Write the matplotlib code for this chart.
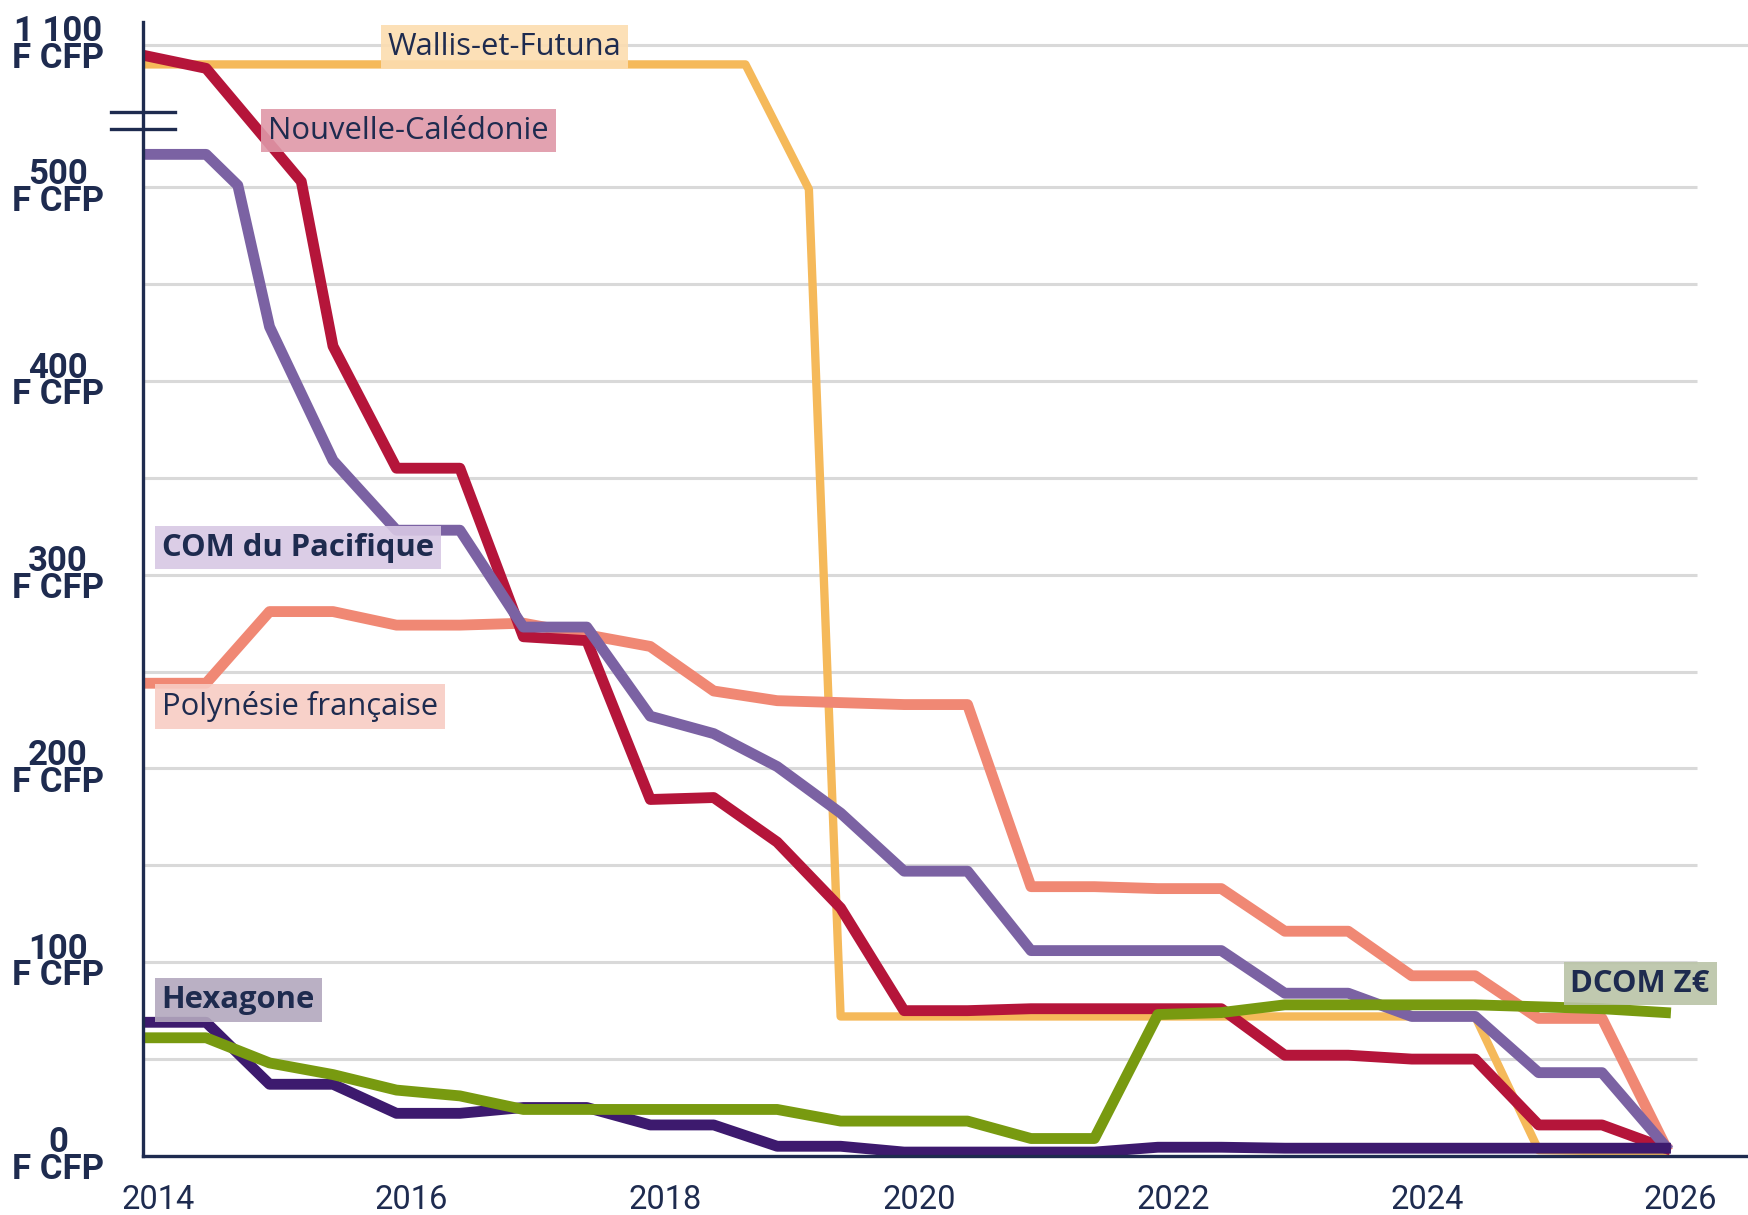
import matplotlib.pyplot as plt
import matplotlib.transforms as mtransforms
import numpy as np

# prix en F CFP, semestres de 2014 a 2026
half_years = [2014 + 0.5 * i for i in range(25)]

wallis_x = [2014, 2018.75, 2019.25, 2019.5, 2024.5, 2025, 2026]
wallis_y = [990, 990, 499, 72, 72, 3, 2]

nc_x = [2014, 2014.5, 2015.25, 2015.5, 2016, 2016.5, 2017, 2017.5, 2018, 2018.5,
        2019, 2019.5, 2020, 2020.5, 2021, 2021.5, 2022, 2022.5, 2023, 2023.5,
        2024, 2024.5, 2025, 2025.5, 2026]
nc_y = [1042, 968, 503, 418, 355, 355, 268, 266, 184, 185,
        162, 128, 75, 75, 76, 76, 76, 76, 52, 52,
        50, 50, 16, 16, 4]

com_x = [2014, 2014.5, 2014.75, 2015, 2015.5, 2016, 2016.5, 2017, 2017.5, 2018,
         2018.5, 2019, 2019.5, 2020, 2020.5, 2021, 2021.5, 2022, 2022.5, 2023,
         2023.5, 2024, 2024.5, 2025, 2025.5, 2026]
com_y = [517, 517, 501, 428, 359, 323, 323, 273, 273, 227,
         218, 201, 177, 147, 147, 106, 106, 106, 106, 84,
         84, 72, 72, 43, 43, 5]

pf_y = [244, 244, 281, 281, 274, 274, 275, 269, 263, 240,
        235, 234, 233, 233, 139, 139, 138, 138, 116, 116,
        93, 93, 71, 71, 5]

hex_y = [69, 69, 37, 37, 22, 22, 25, 25, 16, 16,
         5, 5, 2, 2, 2, 2, 4.5, 4.5, 4, 4,
         4, 4, 4, 4, 4]

dcom_y = [61, 61, 48, 42, 34, 31, 24, 24, 24, 24,
          24, 18, 18, 18, 9, 9, 73, 74, 78, 78,
          78, 78, 77, 76, 74]

ytick_vals = [0, 100, 200, 300, 400, 500, 1100]
ytick_labels = ['0\nF CFP', '100\nF CFP', '200\nF CFP', '300\nF CFP',
                '400\nF CFP', '500\nF CFP', '1 100\nF CFP']
grid_vals = [50, 100, 150, 200, 250, 300, 350, 400, 450, 500]
year_ticks = [2014, 2016, 2018, 2020, 2022, 2024, 2026]

NAVY = '#1E2B4F'

# axe casse : au-dessus de 520 l'echelle est tassee
BREAK = 520
SQUEEZE = 0.0924


def squash(v):
    v = np.asarray(v, dtype=float)
    return np.where(v <= BREAK, v, BREAK + (v - BREAK) * SQUEEZE)


def unsquash(p):
    p = np.asarray(p, dtype=float)
    return np.where(p <= BREAK, p, BREAK + (p - BREAK) / SQUEEZE)


fig = plt.figure(figsize=(17.48, 12.15), dpi=100)
ax = fig.add_axes([0.0816, 0.0486, 0.9184, 0.933])
ax.set_yscale('function', functions=(squash, unsquash))
ax.set_xlim(2014, 2026.65)
ax.set_ylim(0, 1225)

# grille
ax.hlines(grid_vals, 2014, 2026.25, color='#D9D9D9', linewidth=2.2, zorder=1)
ax.axhline(1100, color='#D9D9D9', linewidth=2.2, zorder=1)

lw = 7.8
ax.plot(wallis_x, wallis_y, color='#F5B95A', linewidth=6, zorder=3)
ax.plot(half_years, pf_y, color='#F08874', linewidth=lw, zorder=4)
ax.plot(nc_x, nc_y, color='#B5153A', linewidth=lw, zorder=5)
ax.plot(com_x, com_y, color='#7B62A3', linewidth=lw, zorder=6)
ax.plot(half_years, hex_y, color='#3D1A6E', linewidth=lw, zorder=7)
ax.plot(half_years, dcom_y, color='#789A10', linewidth=lw, zorder=8)

# etiquettes des series
labels = [
    ('Wallis-et-Futuna', 2015.93, 1088, '#FCDDB0', 'normal'),
    ('Nouvelle-Calédonie', 2014.99, 620, '#DF98A8', 'normal'),
    ('COM du Pacifique', 2014.15, 314, '#D8C8E4', 'bold'),
    ('Polynésie française', 2014.15, 232, '#F8CCC4', 'normal'),
    ('Hexagone', 2014.15, 80.5, '#B3A8BE', 'bold'),
    ('DCOM Z€', 2025.25, 89, '#B9C3A6', 'bold'),
]
for txt, x, y, bg, weight in labels:
    ax.text(x, y, txt, fontsize=22.3, fontweight=weight, family=['Open Sans', 'DejaVu Sans'],
            color=NAVY, ha='left', va='center', zorder=10,
            bbox=dict(boxstyle='square,pad=0.22', facecolor=bg, edgecolor='none', alpha=0.9))

# axes
for side in ['top', 'right']:
    ax.spines[side].set_visible(False)
for side in ['left', 'bottom']:
    ax.spines[side].set_color(NAVY)
    ax.spines[side].set_linewidth(2.4)
    ax.spines[side].set_zorder(9)

ax.set_yticks(ytick_vals, ytick_labels)
ax.tick_params(axis='y', length=0, pad=61, labelsize=25, labelcolor=NAVY)
for lab in ax.get_yticklabels():
    lab.set_ha('center')
    lab.set_linespacing(0.76)
    lab.set_fontweight('bold')
    lab.set_family(['Roboto', 'DejaVu Sans'])

ax.set_xticks(year_ticks, [str(y) for y in year_ticks])
ax.tick_params(axis='x', length=0, pad=20, labelsize=23.5, labelcolor=NAVY)
shift = mtransforms.ScaledTranslation(0.15, 0, fig.dpi_scale_trans)
for lab in ax.get_xticklabels():
    lab.set_family(['Roboto', 'DejaVu Sans'])
    lab.set_transform(lab.get_transform() + shift)

# marque de rupture de l'axe
brk = mtransforms.blended_transform_factory(ax.transAxes, ax.transData)
for v in [727, 627]:
    ax.plot([-0.02, 0.02], [v, v], color=NAVY, linewidth=2.4, transform=brk, clip_on=False, zorder=11)

plt.savefig('out.png', dpi=100)
